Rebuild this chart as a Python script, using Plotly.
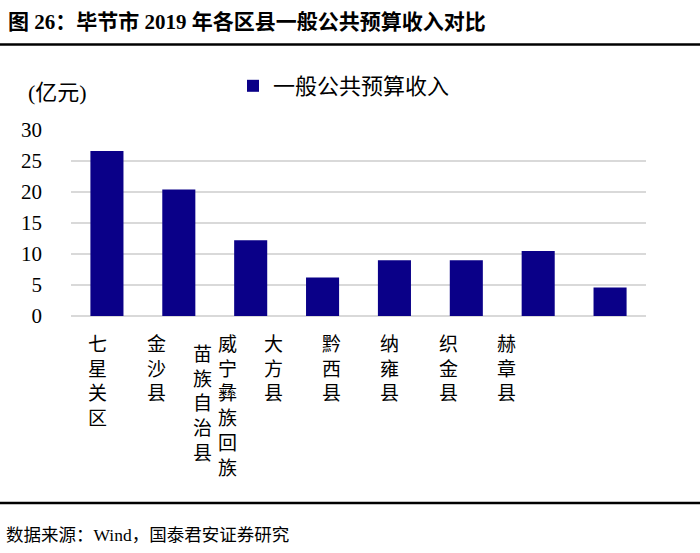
import plotly.graph_objects as go

categories = ["七星关区", "金沙县", "威宁彝族回族苗族自治县", "大方县", "黔西县", "纳雍县", "织金县", "赫章县"]
label_columns = [["七星关区"], ["金沙县"], ["威宁彝族回族", "苗族自治县"], ["大方县"], ["黔西县"], ["纳雍县"], ["织金县"], ["赫章县"]]
values = [26.6, 20.4, 12.2, 6.2, 9.0, 9.0, 10.5, 4.6]
series_name = "一般公共预算收入"
y_ticks = [0, 5, 10, 15, 20, 25, 30]
title_text = "图 26：毕节市 2019 年各区县一般公共预算收入对比"
unit_text = "(亿元)"
source_text = "数据来源：Wind，国泰君安证券研究"

W, H = 700, 553
L, R, T, B = 71, 54, 130, 237
pw, ph = W - L - R, H - T - B
FONT = "Liberation Serif, Noto Sans CJK SC, serif"
BAR = "#0A0088"


def px_x(p):
    return (p - L) / pw


def px_y(p):
    return (H - B - p) / ph


fig = go.Figure()
fig.add_trace(go.Bar(x=categories, y=values, name=series_name,
                     marker=dict(color=BAR, line=dict(width=0)), showlegend=True))

ann = []
for i, cols in enumerate(label_columns):
    base = -9 - 13.5 * i
    n = len(cols)
    for j, col in enumerate(cols):
        # columns read right-to-left
        shift = base + (n - 1) * 12.5 - j * 25
        ann.append(dict(x=categories[i], y=0, xref="x", yref="paper",
                        text="<br>".join(list(col)), showarrow=False,
                        xanchor="center", yanchor="top", xshift=shift,
                        yshift=-16 - (10 if j > 0 else 0),
                        font=dict(size=19, family=FONT, color="black"),
                        align="center"))

ann.append(dict(x=px_x(26), y=px_y(92), xref="paper", yref="paper", text=unit_text,
                showarrow=False, xanchor="left", yanchor="middle",
                font=dict(size=22, family=FONT, color="black")))
ann.append(dict(x=px_x(4), y=px_y(535), xref="paper", yref="paper", text=source_text,
                showarrow=False, xanchor="left", yanchor="middle",
                font=dict(size=17.5, family=FONT, color="black")))

shapes = [
    dict(type="line", xref="paper", yref="paper", x0=px_x(0), x1=px_x(W),
         y0=px_y(44.5), y1=px_y(44.5), line=dict(color="black", width=2.5)),
    dict(type="line", xref="paper", yref="paper", x0=px_x(0), x1=px_x(W),
         y0=px_y(503), y1=px_y(503), line=dict(color="black", width=2.5)),
]

fig.update_layout(
    width=W, height=H,
    margin=dict(l=L, r=R, t=T, b=B),
    paper_bgcolor="white", plot_bgcolor="white",
    bargap=0.54,
    title=dict(text="<b>" + title_text + "</b>", x=8 / W, xanchor="left",
               y=1 - 22 / H, yanchor="middle", xref="container", yref="container",
               font=dict(size=21, family=FONT, color="black")),
    legend=dict(orientation="h", x=px_x(233), xanchor="left", y=px_y(86), yanchor="middle",
                font=dict(size=22, family=FONT, color="black"), bgcolor="rgba(0,0,0,0)"),
    annotations=ann,
    shapes=shapes,
    font=dict(family=FONT, color="black"),
)
fig.update_xaxes(showticklabels=False, showgrid=False, zeroline=False, showline=False)
fig.update_yaxes(range=[0, 30], tickvals=y_ticks, showgrid=True, gridcolor="#D9D9D9",
                 gridwidth=1.6, zeroline=True, zerolinecolor="#D9D9D9", zerolinewidth=1.6,
                 showline=False, ticks="", ticklabelstandoff=28,
                 tickfont=dict(size=21, family=FONT, color="black"))

fig.write_html("out.html", config={"displayModeBar": False},
               post_script="document.body.style.margin='0';document.body.style.overflow='hidden';")
